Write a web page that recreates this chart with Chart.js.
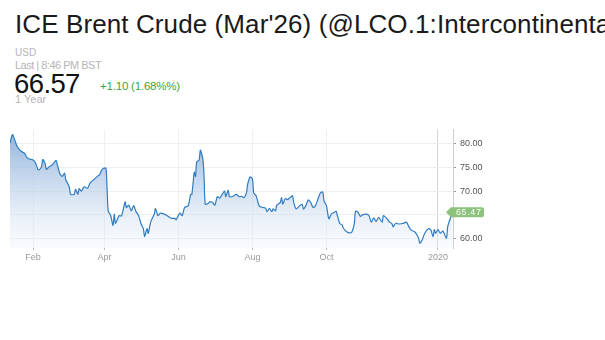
<!DOCTYPE html>
<html>
<head>
<meta charset="utf-8">
<script src="https://cdn.jsdelivr.net/npm/chart.js@4/dist/chart.umd.min.js"></script>
<style>
  html, body { margin: 0; padding: 0; background: #fff; width: 605px; height: 340px; overflow: hidden; }
  body { position: relative; font-family: "Liberation Sans", Arial, sans-serif; }
  .t { position: absolute; white-space: nowrap; }
  #title { left: 15px; top: 9px; font-size: 26px; color: #1a1a1a; letter-spacing: 0.1px; }
  #usd { left: 15px; top: 47px; font-size: 10px; color: #b5b5b5; }
  #last { left: 15px; top: 59px; font-size: 11px; color: #b5b5b5; letter-spacing: -0.5px; }
  #price { left: 14px; top: 68px; font-size: 27.5px; color: #111; letter-spacing: -0.6px; }
  #chg { left: 100px; top: 80px; font-size: 11.5px; color: #3aa83a; letter-spacing: -0.2px; }
  #period { left: 15px; top: 93px; font-size: 11px; color: #b5b5b5; }
  #wrap { position: absolute; left: 0; top: 120px; width: 605px; height: 150px; }
</style>
</head>
<body>
<div class="t" id="title">ICE Brent Crude (Mar'26) (@LCO.1:Intercontinental Exchange)</div>
<div class="t" id="usd">USD</div>
<div class="t" id="last">Last | 8:46 PM BST</div>
<div class="t" id="price">66.57</div>
<div class="t" id="chg">+1.10 (1.68%%)</div>
<div class="t" id="period">1 Year</div>
<div id="wrap"><canvas id="c" width="605" height="150"></canvas></div>
<script>
const dates = [
 '2019-01-13','2019-01-15','2019-01-17','2019-01-19','2019-01-22','2019-01-25','2019-01-27','2019-01-29',
 '2019-02-01','2019-02-03','2019-02-05','2019-02-06','2019-02-08','2019-02-09','2019-02-11','2019-02-12',
 '2019-02-14','2019-02-17','2019-02-20','2019-02-21','2019-02-23','2019-02-25','2019-02-27','2019-02-28',
 '2019-03-02','2019-03-03','2019-03-04','2019-03-07','2019-03-08','2019-03-10','2019-03-11','2019-03-13',
 '2019-03-15','2019-03-18','2019-03-20','2019-03-23','2019-03-26','2019-03-28','2019-03-30','2019-04-02',
 '2019-04-03','2019-04-04','2019-04-06','2019-04-08','2019-04-09','2019-04-10','2019-04-13','2019-04-15',
 '2019-04-18','2019-04-19','2019-04-21','2019-04-23','2019-04-25','2019-04-27','2019-04-29','2019-05-01',
 '2019-05-03','2019-05-04','2019-05-06','2019-05-07','2019-05-09','2019-05-12','2019-05-13','2019-05-15',
 '2019-05-17','2019-05-21','2019-05-23','2019-05-26','2019-05-29','2019-05-30','2019-06-02','2019-06-04',
 '2019-06-06','2019-06-09','2019-06-11','2019-06-12','2019-06-14','2019-06-15','2019-06-16','2019-06-18',
 '2019-06-19','2019-06-21','2019-06-22','2019-06-23','2019-06-25','2019-06-27','2019-06-29','2019-07-01',
 '2019-07-03','2019-07-05','2019-07-07','2019-07-09','2019-07-10','2019-07-12','2019-07-13','2019-07-16',
 '2019-07-19','2019-07-21','2019-07-23','2019-07-25','2019-07-27','2019-07-28','2019-07-30','2019-08-01',
 '2019-08-02','2019-08-04','2019-08-06','2019-08-07','2019-08-10','2019-08-12','2019-08-13','2019-08-15',
 '2019-08-17','2019-08-18','2019-08-20','2019-08-21','2019-08-24','2019-08-25','2019-08-26','2019-08-28',
 '2019-08-30','2019-09-01','2019-09-03','2019-09-04','2019-09-06','2019-09-09','2019-09-11','2019-09-12',
 '2019-09-14','2019-09-16','2019-09-18','2019-09-20','2019-09-22','2019-09-24','2019-09-26','2019-09-28',
 '2019-09-29','2019-10-01','2019-10-03','2019-10-05','2019-10-07','2019-10-09','2019-10-10','2019-10-12',
 '2019-10-14','2019-10-15','2019-10-18','2019-10-20','2019-10-22','2019-10-24','2019-10-25','2019-10-27',
 '2019-10-29','2019-10-31','2019-11-03','2019-11-05','2019-11-07','2019-11-09','2019-11-11','2019-11-13',
 '2019-11-16','2019-11-17','2019-11-20','2019-11-22','2019-11-24','2019-11-25','2019-11-27','2019-11-30',
 '2019-12-03','2019-12-06','2019-12-08','2019-12-10','2019-12-13','2019-12-16','2019-12-17','2019-12-19',
 '2019-12-21','2019-12-24','2019-12-26','2019-12-28','2019-12-29','2019-12-30','2020-01-01','2020-01-03',
 '2020-01-05','2020-01-08','2020-01-09','2020-01-11','2020-01-13'
];
const prices = [
 80.2,82.0,80.8,79.4,78.5,78.0,77.1,76.8,
 76.6,76.0,74.6,74.5,75.2,76.7,75.8,74.6,
 75.1,75.6,76.5,75.6,73.8,73.1,73.8,72.4,
 71.4,70.7,69.3,69.3,70.4,69.3,70.5,70.0,
 70.9,70.6,71.7,72.4,73.1,73.5,74.6,74.9,
 71.0,65.8,64.8,62.7,65.1,63.1,64.8,64.7,
 67.7,66.5,67.0,65.8,66.9,65.6,64.8,63.1,
 62.0,60.3,62.0,61.0,63.4,65.1,66.3,64.8,
 65.3,65.0,64.7,64.2,64.2,63.9,65.3,64.8,
 66.5,66.9,69.3,69.3,74.0,73.1,76.2,76.6,
 78.7,76.9,73.5,67.2,67.3,67.7,67.6,67.0,
 68.8,68.5,69.3,70.0,68.8,70.2,68.8,68.9,
 69.3,68.8,68.9,68.6,69.6,71.4,73.0,72.6,
 69.6,69.0,67.2,66.7,66.5,66.3,65.6,66.3,
 65.6,66.2,65.8,67.0,67.6,68.6,67.2,68.4,
 68.2,68.6,69.0,67.6,66.2,66.9,67.2,66.2,
 66.9,68.1,67.6,66.5,66.9,68.3,69.6,69.8,
 67.9,66.9,64.1,65.1,65.4,65.7,64.8,63.1,
 62.8,62.1,61.3,61.1,61.3,63.1,65.7,65.5,
 64.6,65.0,65.1,64.8,63.4,64.3,63.5,64.4,
 63.4,64.8,64.1,63.4,63.1,62.4,63.1,63.0,
 63.1,63.4,62.4,61.7,61.3,60.0,58.9,59.6,
 61.0,62.0,61.8,60.3,61.8,61.0,61.8,61.0,
 61.5,60.0,62.4,64.1,65.47
];
const xTickDates = ['2019-02-01','2019-04-01','2019-06-01','2019-08-01','2019-10-01','2020-01-01'];
const xTickLabels = ['Feb','Apr','Jun','Aug','Oct','2020'];
const yTicks = [60, 65, 70, 75, 80];
const lastValue = 65.47;
const xStart = '2019-01-13';
const xEnd = '2020-01-13';

const base = Date.UTC(2019, 0, 1);
function dayOf(s) {
  const p = s.split('-').map(Number);
  return (Date.UTC(p[0], p[1] - 1, p[2]) - base) / 86400000;
}
const points = dates.map((d, i) => ({ x: dayOf(d), y: prices[i] }));
const xTickVals = xTickDates.map(dayOf);
const xLabelMap = {};
xTickVals.forEach((v, i) => { xLabelMap[v] = xTickLabels[i]; });

const tagPlugin = {
  id: 'lastTag',
  afterDraw(chart) {
    const ctx = chart.ctx;
    const ys = chart.scales.y;
    const y = ys.getPixelForValue(lastValue);
    const x0 = chart.chartArea.right - 7;
    const h = 10, w = 33;
    ctx.save();
    ctx.fillStyle = '#8cc37c';
    ctx.beginPath();
    ctx.moveTo(x0, y);
    ctx.lineTo(x0 + 5, y - h / 2);
    ctx.lineTo(x0 + 5 + w - 2, y - h / 2);
    ctx.quadraticCurveTo(x0 + 5 + w, y - h / 2, x0 + 5 + w, y - h / 2 + 2);
    ctx.lineTo(x0 + 5 + w, y + h / 2 - 2);
    ctx.quadraticCurveTo(x0 + 5 + w, y + h / 2, x0 + 5 + w - 2, y + h / 2);
    ctx.lineTo(x0 + 5, y + h / 2);
    ctx.closePath();
    ctx.fill();
    ctx.fillStyle = '#ffffff';
    ctx.font = '9px "Liberation Sans", Arial, sans-serif';
    ctx.textBaseline = 'middle';
    ctx.textAlign = 'left';
    if ('letterSpacing' in ctx) ctx.letterSpacing = '0.6px';
    ctx.fillText(lastValue.toFixed(2), x0 + 10, y + 0.5);
    ctx.restore();
  }
};

new Chart(document.getElementById('c'), {
  type: 'line',
  data: {
    datasets: [{
      data: points,
      borderColor: '#2f7cc2',
      borderWidth: 1.2,
      pointRadius: 0,
      tension: 0.25,
      fill: 'start',
      backgroundColor: (ctx) => {
        const a = ctx.chart.chartArea;
        if (!a) return 'rgba(160,190,222,0.5)';
        const g = ctx.chart.ctx.createLinearGradient(0, a.top, 0, a.bottom);
        g.addColorStop(0, 'rgba(120,162,210,0.85)');
        g.addColorStop(0.45, 'rgba(175,200,230,0.65)');
        g.addColorStop(1, 'rgba(235,242,250,0.3)');
        return g;
      }
    }]
  },
  options: {
    responsive: false,
    animation: false,
    events: [],
    layout: { padding: { left: 10, top: 7, right: 0, bottom: 0 } },
    plugins: { legend: { display: false }, tooltip: { enabled: false } },
    scales: {
      x: {
        type: 'linear',
        min: dayOf(xStart),
        max: dayOf(xEnd) + 0.4,
        afterBuildTicks: (s) => { s.ticks = xTickVals.map(v => ({ value: v })); },
        afterFit: (s) => { s.height = 22; },
        border: { display: false },
        grid: {
          color: (c) => (c.tick && c.tick.value === dayOf('2020-01-01')) ? '#d4d4d4' : '#f0f0f0',
          lineWidth: 1,
          drawTicks: true,
          tickLength: 2,
          tickColor: '#bbbbbb'
        },
        ticks: {
          autoSkip: false,
          maxRotation: 0,
          padding: 2,
          color: '#999999',
          font: { family: '"Liberation Sans", Arial, sans-serif', size: 9 },
          callback: (v) => xLabelMap[v] || ''
        }
      },
      y: {
        position: 'right',
        min: 57.9,
        max: 83.1,
        afterBuildTicks: (s) => { s.ticks = yTicks.map(v => ({ value: v })); },
        afterFit: (s) => { s.width = 605 - 453; },
        border: { display: true, color: '#cfcfcf', width: 1 },
        grid: {
          color: '#efefef',
          lineWidth: 1,
          drawTicks: true,
          tickLength: 3,
          tickColor: '#999999'
        },
        ticks: {
          padding: 4,
          color: '#555555',
          font: { family: '"Liberation Sans", Arial, sans-serif', size: 9 },
          callback: (v) => v === 65 ? '' : Number(v).toFixed(2)
        }
      }
    }
  },
  plugins: [tagPlugin]
});
</script>
</body>
</html>
